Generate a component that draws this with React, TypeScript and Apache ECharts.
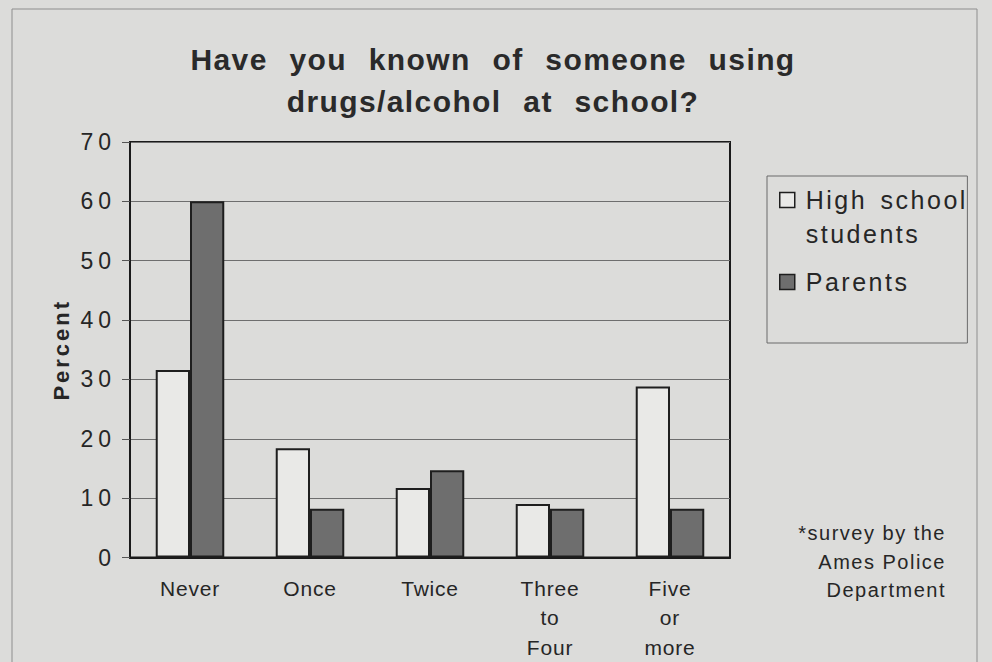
import React, { useEffect, useRef } from 'react';
import * as echarts from 'echarts';

// ---- data ----
const categories = ['Never', 'Once', 'Twice', 'Three\nto\nFour', 'Five\nor\nmore'];
const highSchool = [31.6, 18.4, 11.7, 9.0, 28.8];
const parents = [60.0, 8.2, 14.7, 8.2, 8.2];
const seriesNames = ['High school students', 'Parents'];
const yMin = 0;
const yMax = 70;
const yStep = 10;
const titleText = 'Have you known of someone using\ndrugs/alcohol at school?';
const footnote = '*survey by the\nAmes Police\nDepartment';
const yAxisName = 'Percent';

const FONT = '"Liberation Sans", Arial, Helvetica, sans-serif';
const BG = '#dcdcda';
const INK = '#262626';

const css = `
#chart text[style*="30px"] { letter-spacing: 1.4px; word-spacing: 12px; }
#chart text[style*="25px"] { letter-spacing: 2.5px; word-spacing: 4px; }
#chart text[style*="23px"] { letter-spacing: 5px; }
#chart text[style*="22px"] { letter-spacing: 3px; }
#chart text[style*="21px"] { letter-spacing: 0.8px; }
#chart text[style*="20px"] { letter-spacing: 1.5px; }
`;

export default function App() {
  const ref = useRef<HTMLDivElement>(null);
  useEffect(() => {
    const chart = echarts.init(ref.current!, null, { renderer: 'svg' });
    chart.setOption({
      animation: false,
      backgroundColor: BG,
      textStyle: { fontFamily: FONT, color: INK },
      title: {
        text: titleText,
        left: 493,
        top: 38,
        padding: 0,
        textAlign: 'center',
        textStyle: {
          fontFamily: FONT,
          fontSize: 30,
          fontWeight: 'bold',
          lineHeight: 42,
          color: '#2a2a2a',
        },
      },
      legend: {
        orient: 'vertical',
        left: 767,
        top: 176,
        padding: [7, 31, 10, 12],
        itemGap: 14,
        itemWidth: 15,
        itemHeight: 49,
        icon: 'path://M0,0L15,0L15,15L0,15Z M0,49',
        borderColor: '#6a6a6a',
        borderWidth: 1,
        backgroundColor: 'transparent',
        selectedMode: false,
        data: seriesNames,
        itemStyle: { borderColor: '#1e1e1e', borderWidth: 1.5 },
        formatter: (name: string) =>
          name === seriesNames[0] ? 'High school\nstudents' : name + '\n',
        textStyle: {
          fontFamily: FONT,
          fontSize: 25,
          lineHeight: 34,
          color: INK,
          padding: [0, 0, 0, 6],
        },
      },
      grid: {
        left: 130,
        right: 262,
        top: 142,
        bottom: 101,
        show: true,
        borderColor: '#1a1a1a',
        borderWidth: 2,
        backgroundColor: 'transparent',
      },
      xAxis: {
        type: 'category',
        data: categories,
        axisLine: { show: true, lineStyle: { color: '#1a1a1a', width: 2 } },
        axisTick: { show: false },
        splitLine: { show: false },
        axisLabel: {
          fontFamily: FONT,
          fontSize: 21,
          lineHeight: 29.5,
          margin: 16,
          color: INK,
          interval: 0,
        },
      },
      yAxis: {
        type: 'value',
        min: yMin,
        max: yMax,
        interval: yStep,
        name: yAxisName,
        nameLocation: 'middle',
        nameRotate: 90,
        nameGap: 58,
        nameTextStyle: {
          fontFamily: FONT,
          fontSize: 22,
          fontWeight: 'bold',
          color: INK,
        },
        axisLine: { show: true, lineStyle: { color: '#1a1a1a', width: 2 } },
        axisTick: { show: true, length: 8, lineStyle: { color: '#555555', width: 1 } },
        splitLine: { show: true, lineStyle: { color: '#6e6e6e', width: 1 } },
        axisLabel: {
          fontFamily: FONT,
          fontSize: 23,
          margin: 14,
          color: INK,
        },
      },
      series: [
        {
          name: seriesNames[0],
          type: 'bar',
          data: highSchool,
          barGap: '0%',
          barCategoryGap: '42.9%',
          itemStyle: { color: '#e9e9e7', borderColor: '#1e1e1e', borderWidth: 2 },
        },
        {
          name: seriesNames[1],
          type: 'bar',
          data: parents,
          barGap: '0%',
          barCategoryGap: '42.9%',
          itemStyle: { color: '#6e6e6e', borderColor: '#1e1e1e', borderWidth: 2 },
        },
      ],
      graphic: [
        {
          type: 'rect',
          silent: true,
          z: -1,
          shape: { x: 12, y: 9, width: 965, height: 700 },
          style: { fill: 'none', stroke: '#8e8e8e', lineWidth: 1 },
        },
        {
          type: 'text',
          silent: true,
          x: 946,
          y: 519,
          style: {
            text: footnote,
            fontFamily: FONT,
            fontSize: 20,
            lineHeight: 28.5,
            fill: INK,
            align: 'right',
            textAlign: 'right',
            verticalAlign: 'top',
            textVerticalAlign: 'top',
          },
        },
      ],
    });
    return () => chart.dispose();
  }, []);
  return (
    <>
      <style>{css}</style>
      <div
        id="chart"
        ref={ref}
        style={{ position: 'absolute', left: 0, top: 0, width: 992, height: 662, background: BG }}
      />
    </>
  );
}
